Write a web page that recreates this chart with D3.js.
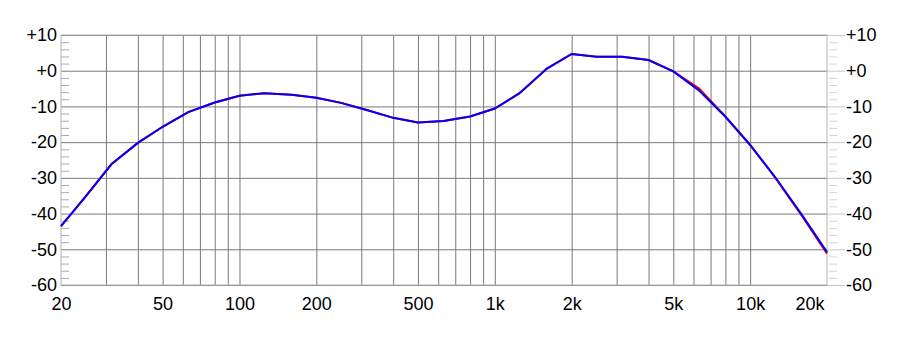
<!DOCTYPE html>
<html>
<head>
<meta charset="utf-8">
<script src="https://cdn.jsdelivr.net/npm/d3@7"></script>
<style>
  body { margin: 0; background: #fff; }
  text { font-family: Arial, "Liberation Sans", sans-serif; }
</style>
</head>
<body>
<div id="canvas"></div>
<script>
// 1/3 octave frequencies (Hz)
var freqs = [20, 25, 31.5, 40, 50, 63, 80, 100, 125, 160, 200, 250, 315, 400, 500, 630, 800,
  1000, 1250, 1600, 2000, 2500, 3150, 4000, 5000, 6300, 8000, 10000, 12500, 16000, 20000];
// level in dB
var redSeries = [-43.5, -35.2, -26.2, -20.2, -15.7, -11.6, -8.9, -7.0, -6.3, -6.7, -7.6, -9.0, -11.0,
  -13.2, -14.5, -14.1, -12.8, -10.6, -6.3, 0.6, 4.7, 3.9, 3.9, 3.0, -0.2, -4.9, -12.8, -20.8, -29.8, -40.8, -51.2];
var blueSeries = [-43.5, -35.2, -26.2, -20.2, -15.7, -11.6, -8.9, -7.0, -6.3, -6.7, -7.6, -9.0, -11.0,
  -13.2, -14.5, -14.1, -12.8, -10.6, -6.3, 0.6, 4.7, 3.9, 3.9, 3.0, -0.2, -5.5, -12.9, -20.8, -29.7, -40.5, -50.8];

var yTicks = [10, 0, -10, -20, -30, -40, -50, -60];
var yTickLabels = ["+10", "+0", "-10", "-20", "-30", "-40", "-50", "-60"];
var xTicks = [20, 50, 100, 200, 500, 1000, 2000, 5000, 10000, 20000];
var xTickLabels = ["20", "50", "100", "200", "500", "1k", "2k", "5k", "10k", "20k"];
var gridFreqs = [30, 40, 50, 60, 70, 80, 90, 100, 200, 300, 400, 500, 600, 700, 800, 900,
  1000, 2000, 3000, 4000, 5000, 6000, 7000, 8000, 9000, 10000];
var minorDb = d3.range(-58, 10, 2).filter(function (d) { return d % 10 !== 0; });

var width = 900, height = 341;
var plotLeft = 61, plotRight = 827, plotTop = 35, plotBottom = 285;
var fontSize = 18;

var svg = d3.select("#canvas").append("svg")
  .attr("width", width)
  .attr("height", height);

svg.append("rect").attr("width", width).attr("height", height).attr("fill", "#fff");

var x = d3.scaleLog().domain([20, 20000]).range([plotLeft, plotRight]);
var y = d3.scaleLinear().domain([-60, 10]).range([plotBottom, plotTop]);

function clean(g, color) {
  g.select(".domain").remove();
  g.selectAll("line").attr("stroke", color);
}

// vertical grid
svg.append("g")
  .attr("transform", "translate(0," + plotBottom + ")")
  .call(d3.axisBottom(x).tickValues(gridFreqs).tickSize(-(plotBottom - plotTop)).tickFormat(""))
  .call(clean, "#7a7a7a");

// horizontal grid
svg.append("g")
  .attr("transform", "translate(" + plotLeft + ",0)")
  .call(d3.axisLeft(y).tickValues(yTicks).tickSize(-(plotRight - plotLeft)).tickFormat(""))
  .call(clean, "#7a7a7a");

// minor ticks, left inside
svg.append("g")
  .attr("transform", "translate(" + plotLeft + ",0)")
  .call(d3.axisRight(y).tickValues(minorDb).tickSize(8).tickFormat(""))
  .call(clean, "#aaa");

// minor ticks, right outside
svg.append("g")
  .attr("transform", "translate(" + (plotRight + 2) + ",0)")
  .call(d3.axisRight(y).tickValues(minorDb).tickSize(8).tickFormat(""))
  .call(clean, "#d4d4d4");

// frame
svg.append("rect")
  .attr("x", plotLeft).attr("y", plotTop)
  .attr("width", plotRight - plotLeft).attr("height", plotBottom - plotTop)
  .attr("fill", "none").attr("stroke", "#b4b4b4").attr("stroke-width", 1);

// left labels
svg.append("g")
  .attr("transform", "translate(" + plotLeft + ",0)")
  .call(d3.axisLeft(y).tickValues(yTicks).tickSize(0).tickPadding(4)
    .tickFormat(function (d, i) { return yTickLabels[i]; }))
  .call(clean, "none")
  .selectAll("text").attr("font-size", fontSize).attr("fill", "#000")
  .style("font-family", "Arial, 'Liberation Sans', sans-serif");

// right labels with light tick extension
svg.append("g")
  .attr("transform", "translate(" + plotRight + ",0)")
  .call(d3.axisRight(y).tickValues(yTicks).tickSize(18).tickPadding(1)
    .tickFormat(function (d, i) { return yTickLabels[i]; }))
  .call(clean, "#c8c8c8")
  .selectAll("text").attr("font-size", fontSize).attr("fill", "#000")
  .style("font-family", "Arial, 'Liberation Sans', sans-serif");

// bottom labels
var xAxis = svg.append("g")
  .attr("transform", "translate(0," + plotBottom + ")")
  .call(d3.axisBottom(x).tickValues(xTicks).tickSize(0).tickPadding(12)
    .tickFormat(function (d, i) { return xTickLabels[i]; }))
  .call(clean, "none");
xAxis.selectAll("text").attr("font-size", fontSize).attr("fill", "#000")
  .style("font-family", "Arial, 'Liberation Sans', sans-serif");
xAxis.selectAll("text").filter(function (d) { return d === 20000; })
  .attr("text-anchor", "end").attr("dx", -3);

var line = d3.line()
  .x(function (d, i) { return x(freqs[i]); })
  .y(function (d) { return y(d); });

svg.append("path")
  .datum(redSeries)
  .attr("fill", "none")
  .attr("stroke", "#ff0000")
  .attr("stroke-width", 2)
  .attr("d", line);

svg.append("path")
  .datum(blueSeries)
  .attr("fill", "none")
  .attr("stroke", "#0000ff")
  .attr("stroke-width", 2)
  .attr("d", line);
</script>
</body>
</html>
